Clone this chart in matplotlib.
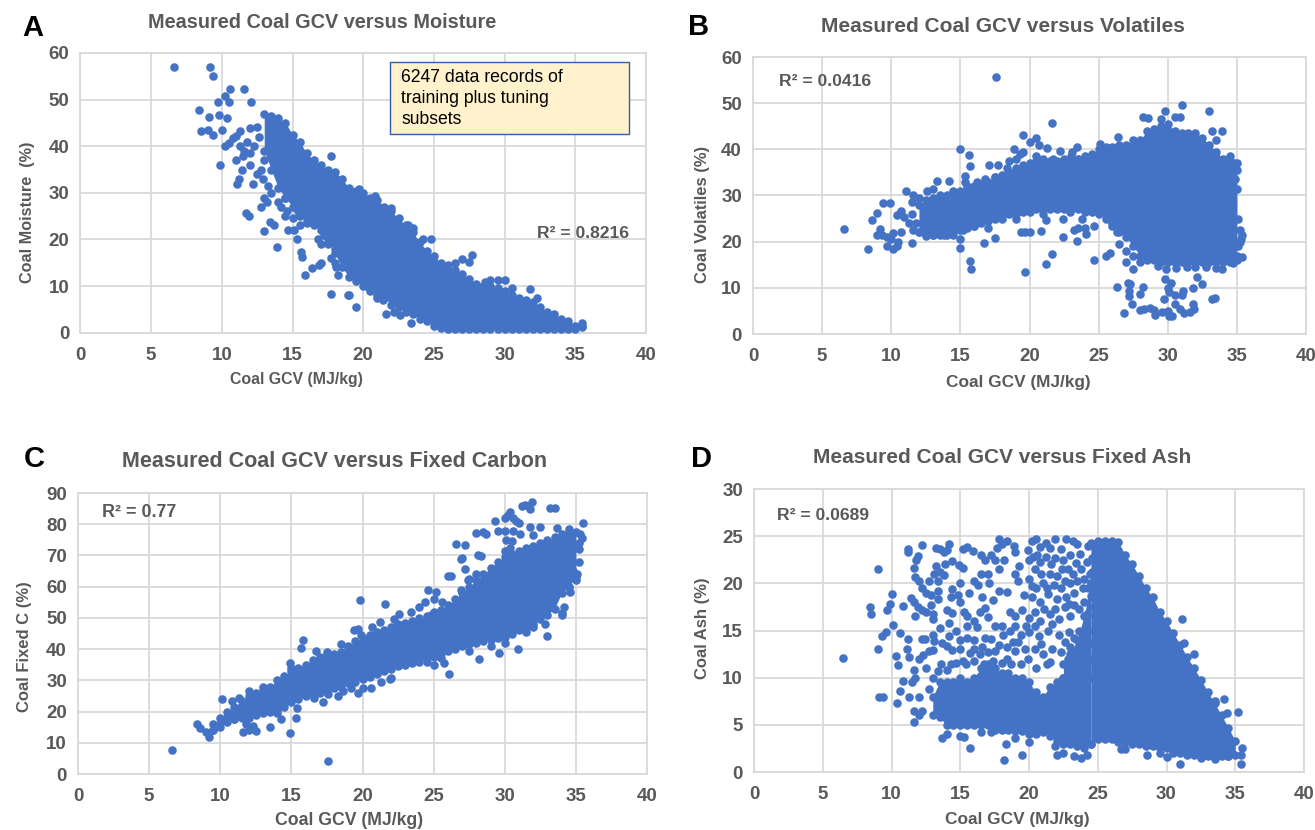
import matplotlib
matplotlib.use('agg')
import matplotlib.pyplot as plt
from matplotlib.patches import Rectangle

W, H = 1315, 830
BLUE = '#4472C4'
GREY = '#595959'
GRID = '#D9D9D9'

plt.rcParams['font.family'] = ['Liberation Sans', 'DejaVu Sans']

# outlying / separately visible points as (GCV, value).
# the *_core arrays are the solid overplotted mass, where single records can't be
# told apart: GCV, lower edge and upper edge of the blob.

a_pts = [(6.6,57.1),(9.2,56.9),(9.4,55),(10.6,52.3),(11.6,52.3),(10.2,50.7),(9.7,49.5),(10.5,49.5),(12.1,49.5),
 (8.4,47.8),(9.1,46.3),(9.8,46.8),(10.4,46.1),(8.5,43.2),(9,43.5),(9.4,42.5),(10,43.4),(11.3,43.2),(12,44),(12.5,44.2),
 (10.8,41.8),(11,42.2),(10.2,40),(10.5,40.8),(9.9,35.9),(11,37),(11.3,40),(11.5,38),(11.4,35),(11.2,33),(11.1,31.8),
 (11.6,39),(11.8,41),(12,38.5),(12.3,40),(12.6,42),(12.2,32),(12.5,34),(12,36),(12.8,35),(13,37),(12.9,33),(13.3,31.5),
 (11.7,25.6),(11.9,25),(12.8,27),(13,29),(13.2,28),(13,21.8),(13.4,23.8),(13.7,23),(13.9,18.3),(13.5,30),(14,28),(14.2,27),
 (14.5,25),(14.7,22),(15.1,22),(15.3,20.2),(15.6,17.3),(15.7,16.2),(15.9,12.3),(16.4,13.8),(16.9,14.6),(17,15),(14.6,26),
 (15,24.5),(15.4,26),(15.5,23),(16,23.5),(16.4,24),(16.8,20),(17,19),(17.2,21),(17.5,22),(17.7,16),(18,15),(18.1,14),
 (17.7,8.4),(17.7,37.8),(18.2,12.3),(18.9,8),(19,8),(19.5,5.6),(21.6,4.1),(22.2,4.5),(22.6,3.8),(23.4,2),(24.8,20),(24.2,20),
 (27.7,16.6),(27.5,15.2),(27,15.8),(26.5,15),(31.8,9.4),(29.5,11.3),(29,11.2),(30,11.3),(32.3,7.5),(18.5,16),(18.8,18),
 (19,17),(18.7,21),(21.4,7),(21,7.5),(20.4,9.5),(22,26.8),(20.8,29.3),(19.7,30.8),(23.5,22.5),(23.2,23),(28.6,10.8),(30.5,9.5),
 (17.5,19),(18,18),(18.2,24),(17.8,27),(16.5,29),(15.8,30),(14.5,29),(35.5,2)]
a_core_x = [13,13.5,14,14.5,15,15.5,16,16.5,17,17.5,18,18.5,19,19.5,20,20.5,21,21.5,22,22.5,23,23.5,24,24.5,25,25.5,
 26,26.5,27,27.5,28,28.5,29,29.5,30,30.5,31,31.5,32,32.5,33,33.5,34,34.5,35,35.5]
a_core_lo = [39,35,31,29,27,25,24,23,22,20,17,14,12,11,10,9,8,7.5,6,5.5,4.5,4,3,2.5,1.5,1,
 0.8,0.8,0.8,0.8,0.8,0.8,0.8,0.8,0.8,0.8,0.8,0.8,0.8,0.8,0.8,0.8,0.8,0.8,0.8,1.2]
a_core_hi = [47,46.5,46,45,42.5,41,38.5,37,36,35,34.5,33,31,30.5,30,29,28.5,27,26,24.5,23,21.5,19.5,17.5,16.5,15,
 14.5,13.5,12.5,11.5,10.5,10,10,9.5,9,8,7.5,7,6.5,5.5,4.5,4,3,2.5,1.5,1.5]

b_pts = [(6.6,22.8),(8.3,18.5),(8.6,24.7),(9,26.2),(9.2,22.8),(9,21.5),(9.3,21.4),(9.4,28.3),(9.9,28.3),(9.7,21),(9.7,19),
 (10.1,21.8),(10,20.5),(10.1,18.5),(10.4,19),(10.5,20),(10.7,22),(10.4,25.7),(10.7,26.7),(10.9,25.4),(11.1,31),(11.5,19.7),
 (11.3,24),(11.5,28.5),(11.6,30),(12,29.5),(12.6,31),(13,31.5),(13.3,33.2),(14.2,33.1),(13.8,21.5),(15,40),(15.6,38.7),
 (15.7,36.3),(15,18.7),(15,20.5),(15.2,22.5),(15.7,15.8),(15.8,14),(16.7,19.7),(17.5,20.7),(15.3,33),(15.3,34.2),(16.8,33.5),
 (17.1,36.5),(17.7,36.5),(17.6,55.6),(18.4,36),(18.9,40),(19,38),(19.5,43.2),(19.5,39.5),(20,41.6),(20.5,42.5),(20.7,41),
 (21.3,40.2),(21.6,45.8),(21.6,17.3),(21.2,15.2),(19.7,13.5),(19.4,22),(19.7,22),(20,22),(20.8,22.3),(21.2,24.8),(22.4,25),
 (22.4,21),(23.4,20.2),(23.2,22.5),(23.5,23),(23.8,25),(24,23),(24.1,21.7),(24.7,23.5),(22.9,26.4),(22.2,39.6),(23.1,39.5),
 (23.4,40.6),(24.7,16),(25.5,17),(25.8,17.5),(26.3,10.2),(26.8,4.5),(27.1,11),(27.2,9.3),(27.2,8.3),(27.4,6.6),(27.3,10.9),
 (27,15.6),(27.5,14),(28,5.2),(28,8.7),(28.2,10.2),(28.3,5.4),(28.7,5.7),(29,5.2),(29.1,4.2),(29.6,4.8),(29.7,7.5),(29.8,12),
 (30,10),(30.2,11),(30.1,9),(30,5),(30.1,4),(30.3,3.9),(30.5,6.5),(30.5,8.5),(30.9,5.5),(31,8.5),(31.1,9.3),(31.2,4.6),(31.6,4.7),
 (31.8,6.5),(31.9,5.5),(31.8,10),(32.1,12.3),(32.5,10.9),(33.2,7.5),(33.4,7.8),(28.2,47),(28.6,46.7),(29.5,46.5),(29.8,48.2),
 (30.5,47),(30.9,47),(31,49.7),(33,48.4),(33.2,44),(33.9,44),(33.5,42),(26.4,42.7),(25.1,41.2),(27.5,42),(35.4,16.7),(34.7,15.3),
 (33.9,14),(33.5,14.3),(32.8,14.5),(32,14.5),(31.4,14.5),(30.6,14.3),(29.9,14),(29.3,14.8),(35,17),(35.3,20.5),(35.4,21.5),
 (35.1,25),(35,31.3),(34.9,33.5),(35,35.5),(34.8,37),(34.5,38.5),(14.3,23),(12,22),(13,21.5),(12.5,21.2),(11.6,22.5),
 (35.1,19),(35.2,22.5),(35.2,20),(11.5,26),(11.8,24),(13.5,30),(14.5,31),(15.5,32),(16.2,33),(17.5,34),(18.5,37.5),(19.3,39),
 (20.5,38.5),(21,38),(21.7,38),(23,38.5),(23.5,38),(14.5,21.5),(16,23.5),(17,23),(18,25),(19,25),(21,26),(23,27),(24,26.5),
 (26,24),(26.3,22),(26.5,19.5),(27,18),(27.5,17),(28,15.7)]
b_core_x = [12,12.5,13,13.5,14,14.5,15,15.5,16,16.5, 17,17.5,18,18.5,19,19.5,20,20.5,21,21.5,
 22,22.5,23,23.5,24,24.5,25,25.5,26,26.5, 27,27.5,28,28.5,29,29.5,30,30.5,31,31.5, 32,32.5,33,33.5,34,34.5,35]
b_core_lo = [22,21.5,21.5,21.5,21.5,22,22.5,23,23.5,24, 24.5,25,25.5,26,26,26.5,26.5,27,27,27,
 27,27,27,27,27,26.5,26,25,23.5,22, 21,19,17,16,16,15.5,15.5,15.5,15.5,15.5, 15.5,15.5,15.5,15.5,15.5,15.5,16]
b_core_hi = [28,29,29.5,29.5,30,30.5,31,31.5,32,32.5, 33,34,34.5,35,36,36.5,37,37.5,37.5,37.5,
 37.5,38,38,38,38.5,39,40,40.5,40.5,41, 41,41,42,44,44.5,45,45.5,44,43.5,43.5, 43.5,42.5,41,39.5,38,37.5,37]

c_pts = [(6.6,7.8),(17.6,4.3),(8.4,16),(8.6,14.8),(9,13.5),(9.2,12),(9.5,14),(10.1,23.9),(10.8,23.5),(11.3,24.5),(11.6,13.5),
 (12,14),(12.5,13.8),(13.5,15),(14.3,17.5),(14.9,13.2),(15.3,17.8),(15.4,21),(14,19.5),(11.8,16),(12.3,15.5),(11,17.5),
 (12,26.5),(13,28),(15.7,40.3),(15.8,42.8),(14.9,35.5),(15,34),(16.7,39.5),(17.5,39),(16.6,24.5),(17.2,23),(17.6,25.5),(18.3,25),
 (18.6,26.5),(19.2,27.7),(19.7,26),(20,27.5),(20.6,27.5),(21.3,29.5),(21.9,30.5),(22,30.7),(19.7,46.5),(19.4,46),(19.9,44.5),
 (18.5,41.5),(19,41),(19.8,55.6),(20.7,47),(21.2,48.7),(21.6,54.3),(22.2,49.5),(22.6,51.2),(23.4,52),(24,53.5),(24.4,55),
 (24.6,58.8),(25.2,58.3),(25,56),(25.6,55),(26,53),(24.8,51),(26.1,32),(25.7,35.5),(25,35),(24.5,36),(28.2,36.7),(29.6,38.8),
 (30.9,39.9),(33,44.2),(26,63.5),(26.2,63.5),(26.9,69),(27,69.2),(27.2,65.5),(28.1,70),(28.3,69.7),(26.6,73.8),(27.2,73.5),
 (28,77.2),(28.5,77.5),(28.7,77),(29.5,77.8),(29.3,81),(30,82),(30.2,83),(30.4,84),(30.6,82),(30.8,81),(31,80.5),(31.2,85.7),
 (31.4,86),(31.8,85),(31.9,87),(31.8,79),(32,76.5),(32.5,79),(33.2,85.3),(33.5,85.2),(30,77.8),(30.6,77.7),(31.1,77),(30.1,75),
 (30.5,74.5),(30,71.5),(30.4,72.5),(35.5,80.3),(35.4,75.5),(35.2,72),(34.8,65),(35,62),(34.6,58.3),(34.2,53.5),(34,51.5),(32.8,48),
 (27.4,62),(26.9,59),(33.7,78.8),(34.5,78.5),(34,51),(32,47),(31.5,45.5),(30,42),(29,41),(27.5,39.5),(25.5,37),
 (35.3,77),(35.2,74),(35.2,68),(35.1,64),(34.5,60),(27,55),(27.5,62.5),(28,64)]
c_core_x = [9.5,10,10.5,11,11.5,12,12.5,13,13.5,14, 14.5,15,15.5,16,16.5,17,17.5,18,18.5,19,
 19.5,20,20.5,21,21.5,22,22.5,23,23.5,24, 24.5,25,25.5,26,26.5,27,27.5,28,28.5,29,
 29.5,30,30.5,31,31.5,32,32.5,33,33.5,34, 34.5,35]
c_core_lo = [14,15,16.5,17.5,18,18,19,19.5,20,20.5, 21.5,23,24,25,25.5,26,27,27.5,28,29,
 29.5,30.5,31,32,33,33.5,34.5,35,35.5,36, 37,37.5,38.5,39.5,40,41,41.5,42,42.5,43,
 43.5,44,45,46,47,48,49.5,51,53,58, 60,63]
c_core_hi = [16,18,20,21.5,23.5,25,26,27,28,30, 31.5,33,34,35,36.5,37.5,38,38.5,39,40.5,
 42.5,43.5,44.5,45.5,46,47,48,48.5,49,50, 50.5,52,52.5,54,56,58,60,62,64,66,
 68,69.5,70.5,71.5,72.5,73,74,75,76,77, 77.5,77.5]

d_pts = [(6.5,12.1),(8.4,17.5),(8.5,16.8),(9,21.5),(9,13),(9.1,8),(9.4,8),(9.3,14.4),(9.6,14.8),(9.7,17.2),(9.9,17.8),(10,18.9),
 (10.1,15.6),(10.6,14.7),(10.3,12.3),(10.5,11.3),(10.4,7.3),(10.6,8.6),(10.8,9.6),(10.8,17.6),(11.1,13),(11.2,14.1),(11.3,12.2),
 (11.3,8),(11.5,9.5),(11.6,10.8),(11.7,10),(11.6,6.5),(11.6,5.3),(12,6),(12.2,6.5),(12,8),(12,12),(12.2,14.1),(12.4,14.1),(12.5,11),
 (12.7,8.8),(13,10),(11.2,23.3),(11.2,23.6),(11.8,22.5),(11.9,22.9),(12.2,24.1),(11.6,21.6),(11.7,20.7),(12,20.2),(12.2,19.5),
 (12.5,19),(12.9,18.8),(12.7,20.3),(11.4,18.4),(11.6,18),(11.9,17.5),(12.2,17.2),(12.5,17),(11.7,16.5),(12.9,17.7),(13,16.7),(13,16.2),
 (13.1,21),(13.2,21.8),(13.5,21.2),(13.8,20.9),(13.2,23.7),(13.5,23.6),(13.8,23.3),(14,23.5),(14.2,24.2),(13.9,22.1),(14.4,22.4),
 (13.4,20.3),(13.4,19.2),(13.4,18.3),(14,17.2),(14.3,18.5),(14.4,19.4),(14.8,18.8),(15,18),(14.4,16.9),(14.7,15),(15,14),(13,14.5),
 (13.1,13.9),(13.7,13.7),(14,13.4),(14.2,14.4),(14.4,12.9),(13,12.9),(12.7,12.8),(12.3,12.4),(13.6,11.5),(14.9,21.9),(15.2,21.6),
 (15.2,23.6),(15.5,23.8),(15.9,23.4),(16.5,23),(16.8,22.5),(17.2,23),(17.5,22.5),(17,21),(16,20.3),(16.3,19.8),(17.1,20),(17.4,18.2),
 (16.6,18.6),(17.8,19.2),(18.4,19.1),(15.3,17),(15.5,16.5),(15.5,15.5),(16,16),(16.2,15.4),(16.4,17),(16.8,17.4),(17,16.4),(16.8,14.2),
 (16,14),(16,13),(17.2,14.1),(17,12.7),(16.4,12.5),(15,13),(14.7,11.6),(15.7,2.5),(18.2,1.3),(19.5,1.8),(13.7,3.6),(14,4),(15,3.8),
 (15.3,3.7),(17.8,24.7),(18,24.2),(18.4,24.5),(18.2,22.5),(17.7,23.7),(18.9,24),(19,23.3),(19.3,21.8),(19,21),(19.2,20.2),(19.9,23.5),
 (20.2,24.5),(20.5,24.7),(20.8,23.8),(21.2,24.3),(21.9,24.7),(21.5,23.7),(22.3,23.6),(22.7,24.7),(23.2,24.5),(23.5,24.2),(20,22.5),
 (20.4,21.5),(20.8,22.3),(21.2,22.8),(21.9,22.7),(22.5,22.5),(23,23),(23.7,23.1),(24.3,24),(24.6,22.7),(20,20.5),(20.5,19.5),(21,20),
 (21.5,21),(22,20.8),(22.6,20.2),(23.2,21),(23.8,21.5),(24.4,21),(24.8,20),(20.2,18.5),(20.8,18),(21.4,18.9),(22,18.3),(22.7,18.5),
 (23.3,19),(23.9,19.5),(24.5,18.7),(18.6,17),(19,16.5),(19.5,17.2),(20,16.3),(20.8,16),(21.5,16.8),(22.2,16.2),(23,16.5),(23.6,17.3),
 (24.2,16.8),(18,15.5),(18.6,15),(19.4,14.5),(20,14.8),(20.7,14.4),(21.4,15),(22.2,14.5),(22.9,14.8),(23.6,15),(24.3,15),(24.8,16.5),
 (17.8,13.5),(18.4,13.2),(19,12.8),(19.7,13),(20.4,13),(21,12.5),(21.7,13),(22.3,12.7),(23,13.2),(23.7,13),(15.4,11.5),(16,11.8),
 (16.7,11.4),(17.4,11.8),(18,11.6),(18.7,11.5),(19.4,11.5),(20.5,11),(21.3,11.4),(31.1,16.2),(31.3,13.7),(32,12.5),(34.2,7.7),(35.2,6.4),
 (33.5,7.5),(34.4,6.3),(31,0.9),(35.4,0.9),(35.5,2.5),(35.4,1.8),(34.5,1.7),(33.5,1.4),(32.5,1.5),(22,1.8),(22.5,2),(23.3,1.7),
 (23.8,1.5),(24.2,1.8),(21.9,2.8),(28.6,1.8),(29.5,2),(30,1.6),(27,2.4),(26.7,2.4),(31.5,2.1),(16.5,4.2),(17.2,4.2),(18.3,3),(19,3.6),(20,3.2),
 (18.1,14.5),(19,15.5),(19.8,15.5),(20.4,17),(21.1,17.3),(21.9,17.3),(22.6,17.5),(24,18),(24.5,20),(23,20),(22.3,19.5),(21.3,19.5),
 (19.6,18.8),(20.6,23),(22.4,21.5),(15,20),(15.6,19),(14.2,15.8),(13.5,15.3),(15.5,14.2),(17.5,15.5),(18.8,13.8),(16.5,21),(17.8,21.5),
 (20.3,22.8),(21.6,22),(23.4,22.2),(24,20.5),(24.7,24.2),(24.2,22.3),(24.6,21.2),(23.5,20.2),(22.8,21.5),(21.8,19.8),(20.9,21),(20.2,19.7),
 (22.9,17.8),(23.3,17.7),(24.3,19.5),(24.7,17.5),(21.7,15.7),(20.4,15.5),(19.2,13.8),(18.4,12),(19.9,12),(21.5,11.7),(22.8,12),(20.9,13.6),
 (22.6,13.8),(23.3,14.2),(24,14.3),(24.5,13.7),(24.8,15),(17.5,12.8),(16.6,13.2),(15.7,12.6),(15.2,11.8),(14.3,11.5),(14,10.8),(13.4,10.7)]
d_low_x = [13,13.5,14,14.5,15,15.5,16,16.5,17,17.5,18,18.5,19,19.5,20,20.5,21,21.5,22,22.5,23,23.5,24,24.5]
d_low_lo = [6,5.8,5,5,5,5,5,5,5,4.5,4.5,4.5,4.3,4.3,4,4,4.2,3.8,3.3,3,3,2.8,2.5,3]
d_low_hi = [8,9.5,9.5,9.5,10,9.5,10,11,11.5,11,10.5,10.5,10,10,9.5,8.5,8,9,9.5,10,10.5,11,11.5,12]
d_mid_x = [22.5,23,23.5,24,24.5]
d_mid_lo = [10,10,10,10,10]
d_mid_hi = [11.5,12.5,14,16.5,20]
d_core_x = [24.5,25,25.5,26,26.5,27,27.5,28,28.5,29,29.5,30,30.5,31,31.5,32,32.5,33,33.5,34,34.5,35]
d_core_lo = [3,3.5,3.5,3.5,3.2,3.2,3,3,2.8,2.8,2.5,2.5,2,2,1.8,1.8,1.7,1.7,1.7,1.7,1.7,1.8]
d_core_hi = [24.3,24.5,24.5,24.5,24.4,23,22,20.8,19.5,18.5,17,16,14.7,13.5,12.2,11,9.8,8.5,7.3,6,4.7,3.3]

x_ticks = [0,5,10,15,20,25,30,35,40]
a_ticks = [0,10,20,30,40,50,60]
c_ticks = [0,10,20,30,40,50,60,70,80,90]
d_ticks = [0,5,10,15,20,25,30]


def panel(box, pts, ytop, yticks):
	l, r, t, b = box
	ax = fig.add_axes([l/W, 1-b/H, (r-l)/W, (b-t)/H])
	ax.set_xlim(0, 40)
	ax.set_ylim(0, ytop)
	ax.set_xticks(x_ticks)
	ax.set_yticks(yticks)
	ax.grid(True, color=GRID, lw=1.3)
	ax.set_axisbelow(True)
	ax.tick_params(length=0, labelsize=13.5, labelcolor=GREY, pad=10)
	ax.tick_params(axis='y', pad=8)
	for lab in ax.get_xticklabels()+ax.get_yticklabels():
		lab.set_fontweight('bold')
	for s in ax.spines.values():
		s.set_color(GRID)
		s.set_linewidth(1.3)
	ax.scatter([p[0] for p in pts], [p[1] for p in pts], s=38, color=BLUE, lw=0, zorder=3, clip_on=False)
	return ax


def core(ax, x, lo, hi):
	ax.fill_between(x, lo, hi, color=BLUE, lw=0, zorder=3)
	ax.scatter(x, lo, s=38, color=BLUE, lw=0, zorder=3, clip_on=False)
	ax.scatter(x, hi, s=38, color=BLUE, lw=0, zorder=3, clip_on=False)


def txt(x, y, s, size, color=GREY, weight='bold', rot=0, ha='center'):
	fig.text(x/W, 1-y/H, s, fontsize=size, color=color, fontweight=weight, rotation=rot, ha=ha, va='center')


fig = plt.figure(figsize=(W/100, H/100), dpi=100)

ax_a = panel((80.4, 646, 53, 332.7), a_pts, 60, a_ticks)
core(ax_a, a_core_x, a_core_lo, a_core_hi)
ax_b = panel((753, 1306, 57, 334), b_pts, 60, a_ticks)
core(ax_b, b_core_x, b_core_lo, b_core_hi)
ax_c = panel((78, 647, 493, 774), c_pts, 90, c_ticks)
core(ax_c, c_core_x, c_core_lo, c_core_hi)
ax_d = panel((754, 1304, 489, 772), d_pts, 30, d_ticks)
core(ax_d, d_low_x, d_low_lo, d_low_hi)
core(ax_d, d_mid_x, d_mid_lo, d_mid_hi)
core(ax_d, d_core_x, d_core_lo, d_core_hi)

fig.add_artist(Rectangle((390/W, 1-134/H), 239/W, 72/H, transform=fig.transFigure,
	facecolor='#FFF2CC', edgecolor='#2F5FA8', lw=1, zorder=5))
for i, line in enumerate(['6247 data records of', 'training plus tuning', 'subsets']):
	t = fig.text(401/W, 1-(78+i*20.5)/H, line, fontsize=12.7, color='black', ha='left', va='center', zorder=6)

txt(322, 22, 'Measured Coal GCV versus Moisture', 14.3)
txt(1003, 26, 'Measured Coal GCV versus Volatiles', 15)
txt(335, 461, 'Measured Coal GCV versus Fixed Carbon', 15.5)
txt(1002, 457, 'Measured Coal GCV versus Fixed Ash', 15)

txt(296, 379, 'Coal GCV (MJ/kg)', 11.4)
txt(1018, 382, 'Coal GCV (MJ/kg)', 12.4)
txt(349, 820, 'Coal GCV (MJ/kg)', 12.7)
txt(1017, 819, 'Coal GCV (MJ/kg)', 12.4)

txt(28, 212, 'Coal Moisture  (%)', 11.7, rot=90)
txt(702, 214, 'Coal Volatiles (%)', 11.9, rot=90)
txt(25, 647, 'Coal Fixed C (%)', 12, rot=90)
txt(702, 628, 'Coal Ash (%)', 12, rot=90)

txt(583, 233, 'R² = 0.8216', 12.6)
txt(825, 82, 'R² = 0.0416', 12.6)
txt(139, 512, 'R² = 0.77', 12.9)
txt(823, 515, 'R² = 0.0689', 12.6)

txt(33, 28, 'A', 21, color='black')
txt(699, 27, 'B', 21, color='black')
txt(34, 459, 'C', 21, color='black')
txt(701, 459, 'D', 21, color='black')

plt.savefig('out.png', dpi=100)
